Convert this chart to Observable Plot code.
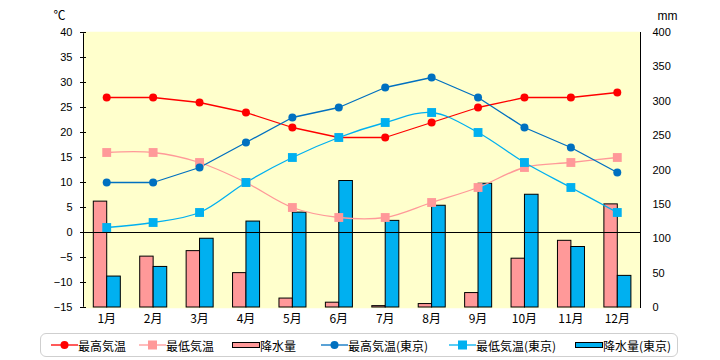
<!DOCTYPE html>
<html><head><meta charset="utf-8">
<script src="https://cdn.jsdelivr.net/npm/d3@7"></script>
<script src="https://cdn.jsdelivr.net/npm/@observablehq/plot@0.6"></script>
<style>
body{margin:0;background:#fff;font-family:"Noto Sans CJK JP","Liberation Sans",sans-serif;}
#wrap{position:relative;width:720px;height:360px;}
#legend{position:absolute;left:40px;top:333px;width:638px;height:24px;border:1.5px solid #cfcfcf;border-radius:6px;box-sizing:border-box;}
.item{position:absolute;top:0;height:22px;display:flex;align-items:center;font-size:12px;white-space:nowrap;}
</style></head>
<body><div id="wrap"><div id="chart"></div><div id="legend"></div></div>
<script>
const months = ["1月","2月","3月","4月","5月","6月","7月","8月","9月","10月","11月","12月"];
const maxTemp = [27,27,26,24,21,19,19,22,25,27,27,28];
const minTemp = [16,16,14,10,5,3,3,6,9,13,14,15];
const precip = [154,74,82,50,13,7,2,5,21,71,97,150];
const tokyoMax = [10,10,13,18,23,25,29,31,27,21,17,12];
const tokyoMin = [1,2,4,10,15,19,22,24,20,14,9,4];
const tokyoPrecip = [45,59,100,125,138,184,126,148,180,164,88,46];
const tempTicks = [-15,-10,-5,0,5,10,15,20,25,30,35,40];
const mmTicks = [0,50,100,150,200,250,300,350,400];

const C = {red:"#ff0000", pink:"#ff9999", dblue:"#0070c0", lblue:"#00b0f0"};
const mmToT = mm => -15 + mm * 55 / 400;
const rows = months.map((m,i)=>({month:m, maxT:maxTemp[i], minT:minTemp[i], p:precip[i],
  tmax:tokyoMax[i], tmin:tokyoMin[i], tp:tokyoPrecip[i]}));
const font = '"Liberation Sans", Arial, sans-serif';

const chart = Plot.plot({
  width:720, height:330, marginLeft:83, marginRight:80, marginTop:32, marginBottom:23,
  style:{fontFamily:font, fontSize:"11px", background:"white", color:"black", overflow:"visible"},
  x:{type:"band", domain:months, padding:0, round:false, label:null},
  y:{domain:[-15,40], label:null},
  marks:[
    Plot.frame({fill:"#ffffcc", stroke:"black"}),
    Plot.ruleY([40], {stroke:"#ffffcc", strokeWidth:1.5}),
    Plot.ruleY([-15], {stroke:"#ffffcc", strokeWidth:1.5}),
    Plot.barY(rows, {x:"month", y1:d=>mmToT(0), y2:d=>mmToT(d.p), fill:C.pink, stroke:"black", strokeWidth:1, insetLeft:10.3, insetRight:22.7}),
    Plot.barY(rows, {x:"month", y1:d=>mmToT(0), y2:d=>mmToT(d.tp), fill:C.lblue, stroke:"black", strokeWidth:1, insetLeft:23.7, insetRight:9.1}),
    Plot.ruleY([0], {stroke:"black", strokeWidth:1}),
    Plot.axisY(tempTicks, {anchor:"left", tickSize:6, dx:3, tickPadding:8, fontFamily:font, fontSize:11}),
    Plot.axisY(mmTicks.map(mmToT), {anchor:"right", tickSize:0, tickPadding:12, fontFamily:font, fontSize:11,
      tickFormat:t=>String(Math.round((t+15)*400/55))}),
    Plot.axisX({anchor:"bottom", tickSize:0, tickPadding:7, fontFamily:'"Noto Sans CJK JP", sans-serif', fontSize:12}),
    Plot.lineY(rows, {x:"month", y:"minT", stroke:C.pink, strokeWidth:1.3, curve:"catmull-rom"}),
    Plot.lineY(rows, {x:"month", y:"maxT", stroke:C.red, strokeWidth:1.3}),
    Plot.lineY(rows, {x:"month", y:"tmin", stroke:C.lblue, strokeWidth:1.3, curve:"catmull-rom"}),
    Plot.lineY(rows, {x:"month", y:"tmax", stroke:C.dblue, strokeWidth:1.3}),
    Plot.dot(rows, {x:"month", y:"minT", symbol:"square", r:5, fill:C.pink}),
    Plot.dot(rows, {x:"month", y:"maxT", symbol:"circle", r:4, fill:C.red}),
    Plot.dot(rows, {x:"month", y:"tmin", symbol:"square", r:5, fill:C.lblue}),
    Plot.dot(rows, {x:"month", y:"tmax", symbol:"circle", r:4, fill:C.dblue}),
    Plot.text(["℃"], {frameAnchor:"top-left", dx:-30, dy:-21, fontFamily:'"Noto Sans CJK JP", sans-serif', fontSize:12}),
    Plot.text(["mm"], {frameAnchor:"top-right", dx:37, dy:-21, fontFamily:font, fontSize:12})
  ]
});
document.getElementById("chart").appendChild(chart);

const legendItems = [
  {label:"最高気温", type:"line", color:C.red, sym:"circle", left:10},
  {label:"最低気温", type:"line", color:C.pink, sym:"square", left:98},
  {label:"降水量", type:"bar", color:C.pink, left:191},
  {label:"最高気温(東京)", type:"line", color:C.dblue, sym:"circle", left:280},
  {label:"最低気温(東京)", type:"line", color:C.lblue, sym:"square", left:408},
  {label:"降水量(東京)", type:"bar", color:C.lblue, left:534}
];
const lg = document.getElementById("legend");
for (const it of legendItems) {
  const d = document.createElement("div");
  d.className = "item"; d.style.left = it.left + "px";
  let sw;
  if (it.type === "line") {
    const mark = it.sym === "circle"
      ? `<circle cx="13.5" cy="8" r="4" fill="${it.color}"/>`
      : `<rect x="9" y="3.5" width="9" height="9" fill="${it.color}"/>`;
    sw = `<svg width="27" height="16"><line x1="0" x2="27" y1="8" y2="8" stroke="${it.color}" stroke-width="1.3"/>${mark}</svg>`;
  } else {
    sw = `<svg width="28" height="16"><rect x="0.5" y="5.5" width="27" height="5" fill="${it.color}" stroke="black" stroke-width="1"/></svg>`;
  }
  d.innerHTML = sw + `<span>${it.label}</span>`;
  lg.appendChild(d);
}
</script></body></html>
